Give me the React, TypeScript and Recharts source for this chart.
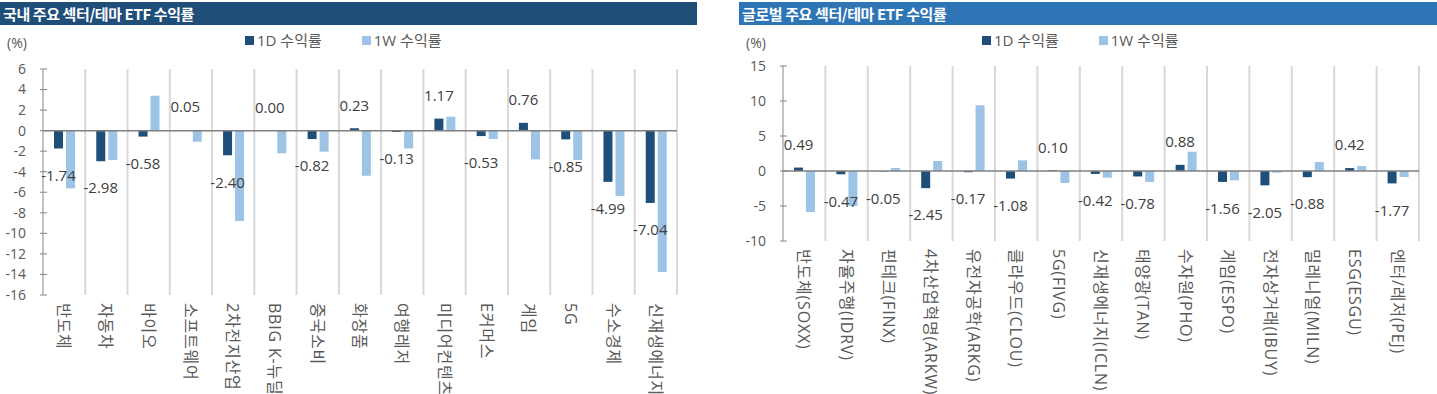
import React from 'react';
import { BarChart, Bar, XAxis, YAxis, CartesianGrid, ReferenceLine, LabelList } from 'recharts';

// 국내 주요 섹터/테마 ETF
const domesticCategories = [
  '반도체', '자동차', '바이오', '소프트웨어', '2차전지산업', 'BBIG K-뉴딜', '중국소비', '화장품',
  '여행레저', '미디어컨텐츠', 'E커머스', '게임', '5G', '수소경제', '신재생에너지',
];
const domestic1D = [-1.74, -2.98, -0.58, 0.05, -2.4, 0.0, -0.82, 0.23, -0.13, 1.17, -0.53, 0.76, -0.85, -4.99, -7.04];
const domestic1W = [-5.62, -2.86, 3.4, -1.08, -8.8, -2.21, -2.05, -4.39, -1.73, 1.36, -0.82, -2.8, -2.86, -6.37, -13.77];
const domesticTicks = [6, 4, 2, 0, -2, -4, -6, -8, -10, -12, -14, -16];

// 글로벌 주요 섹터/테마 ETF
const globalCategories = [
  '반도체(SOXX)', '자율주행(IDRV)', '핀테크(FINX)', '4차산업혁명(ARKW)', '유전자공학(ARKG)', '클라우드(CLOU)',
  '5G(FIVG)', '신재생에너지(ICLN)', '태양광(TAN)', '수자원(PHO)', '게임(ESPO)', '전자상거래(IBUY)',
  '밀레니얼(MILN)', 'ESG(ESGU)', '엔터/레저(PEJ)',
];
const global1D = [0.49, -0.47, -0.05, -2.45, -0.17, -1.08, 0.1, -0.42, -0.78, 0.88, -1.56, -2.05, -0.88, 0.42, -1.77];
const global1W = [-5.86, -5.0, 0.43, 1.43, 9.39, 1.52, -1.71, -0.95, -1.57, 2.76, -1.33, -0.24, 1.29, 0.71, -0.86];
const globalTicks = [15, 10, 5, 0, -5, -10];

const seriesNames = ['1D 수익률', '1W 수익률'];
const COLOR_1D = '#1f4e79';
const COLOR_1W = '#9dc3e6';
const FONT = "'Open Sans', 'Noto Sans CJK KR', sans-serif";

const YTick = (props: any) => {
  const { x, y, payload } = props;
  const ax = x + 17;
  return (
    <g>
      <line x1={ax - 3} x2={ax + 4} y1={y} y2={y} stroke="#868686" />
      <text x={x} y={y} dy="0.35em" textAnchor="end" fontSize={14} fill="#595959">
        {payload.value}
      </text>
    </g>
  );
};

const XTick = (props: any) => {
  const { x, y, payload } = props;
  return (
    <text
      x={x}
      y={y}
      transform={`rotate(90 ${x} ${y})`}
      textAnchor="start"
      dominantBaseline="central"
      fontSize={16}
      style={{ letterSpacing: '0.8px' }}
      fill="#595959"
    >
      {payload.value}
    </text>
  );
};

const renderValueLabel = (props: any) => {
  const { x, y, width, height, value } = props;
  const top = Math.min(y, y + height);
  const bottom = Math.max(y, y + height);
  const cy = value >= 0 ? top - 23 : bottom + 27;
  return (
    <text x={x + width / 2} y={cy} dy="0.35em" textAnchor="middle" fontSize={15} fill="#404040">
      {Number(value).toFixed(2)}
    </text>
  );
};

interface PanelProps {
  title: string;
  headerColor: string;
  categories: string[];
  d1: number[];
  w1: number[];
  ticks: number[];
  left: number;
  width: number;
  headerLeft: number;
  headerWidth: number;
  legendLeft: number;
  unitLeft: number;
  marginTop: number;
  marginRight: number;
  yAxisWidth: number;
  xAxisHeight: number;
}

const Panel: React.FC<PanelProps> = ({
  title, headerColor, categories, d1, w1, ticks, left, width,
  headerLeft, headerWidth, legendLeft, unitLeft, marginTop, marginRight, yAxisWidth, xAxisHeight,
}) => {
  const data = categories.map((name, i) => ({ name, d1: d1[i], w1: w1[i] }));
  const n = categories.length;
  return (
    <>
      <div
        style={{
          position: 'absolute', left: headerLeft, top: 2, width: headerWidth, height: 23,
          background: headerColor, color: '#fff', fontFamily: "'Noto Sans CJK KR', sans-serif",
          fontWeight: 700, fontSize: 15, lineHeight: '23px', paddingLeft: 3, letterSpacing: -0.4,
          boxSizing: 'border-box', whiteSpace: 'nowrap',
        }}
      >
        {title}
      </div>
      <div style={{ position: 'absolute', left: unitLeft, top: 32, fontSize: 14, color: '#595959', lineHeight: '22px' }}>
        (%)
      </div>
      <div
        style={{
          position: 'absolute', left: legendLeft, top: 29, display: 'flex', alignItems: 'center',
          fontSize: 15, color: '#595959', lineHeight: '22px', whiteSpace: 'nowrap',
        }}
      >
        {seriesNames.map((s, i) => (
          <span key={s} style={{ display: 'flex', alignItems: 'center', marginRight: i === 0 ? 40 : 0 }}>
            <span style={{ width: 9, height: 9, background: i === 0 ? COLOR_1D : COLOR_1W, display: 'inline-block', marginRight: 3 }} />
            {s}
          </span>
        ))}
      </div>
      <div style={{ position: 'absolute', left, top: 0 }}>
        <BarChart
          width={width}
          height={394}
          data={data}
          margin={{ top: marginTop, right: marginRight, bottom: 0, left: 0 }}
          barSize={9}
          barGap={3}
        >
          <CartesianGrid
            horizontal={false}
            stroke="#d9d9d9"
            strokeWidth={2}
            verticalCoordinatesGenerator={({ offset }: any) =>
              Array.from({ length: n }, (_, i) => offset.left + ((i + 1) * offset.width) / n)
            }
          />
          <XAxis
            dataKey="name"
            interval={0}
            axisLine={false}
            tickLine={false}
            tickSize={0}
            tickMargin={8}
            height={xAxisHeight}
            tick={<XTick />}
          />
          <YAxis
            width={yAxisWidth}
            domain={[ticks[ticks.length - 1], ticks[0]]}
            ticks={ticks}
            interval={0}
            allowDataOverflow
            axisLine={{ stroke: '#868686' }}
            tickLine={false}
            tickSize={0}
            tickMargin={17}
            tick={<YTick />}
          />
          <Bar dataKey="d1" name={seriesNames[0]} fill={COLOR_1D} minPointSize={0.3} isAnimationActive={false}>
            <LabelList dataKey="d1" content={renderValueLabel} />
          </Bar>
          <Bar dataKey="w1" name={seriesNames[1]} fill={COLOR_1W} isAnimationActive={false} />
          <ReferenceLine y={0} stroke="#7f7f7f" strokeWidth={1.5} />
        </BarChart>
      </div>
    </>
  );
};

export default function App() {
  return (
    <div
      style={{
        position: 'absolute', left: 0, top: 0, width: 1437, height: 394,
        overflow: 'hidden', background: '#fff', fontFamily: FONT,
      }}
    >
      <Panel
        title="국내 주요 섹터/테마 ETF 수익률"
        headerColor="#1f4e79"
        categories={domesticCategories}
        d1={domestic1D}
        w1={domestic1W}
        ticks={domesticTicks}
        left={0}
        width={700}
        headerLeft={0}
        headerWidth={697}
        legendLeft={245}
        unitLeft={7}
        marginTop={69}
        marginRight={23}
        yAxisWidth={43}
        xAxisHeight={99}
      />
      <Panel
        title="글로벌 주요 섹터/테마 ETF 수익률"
        headerColor="#2e75b6"
        categories={globalCategories}
        d1={global1D}
        w1={global1W}
        ticks={globalTicks}
        left={700}
        width={737}
        headerLeft={739}
        headerWidth={698}
        legendLeft={982}
        unitLeft={746}
        marginTop={66}
        marginRight={18}
        yAxisWidth={83}
        xAxisHeight={153}
      />
    </div>
  );
}
